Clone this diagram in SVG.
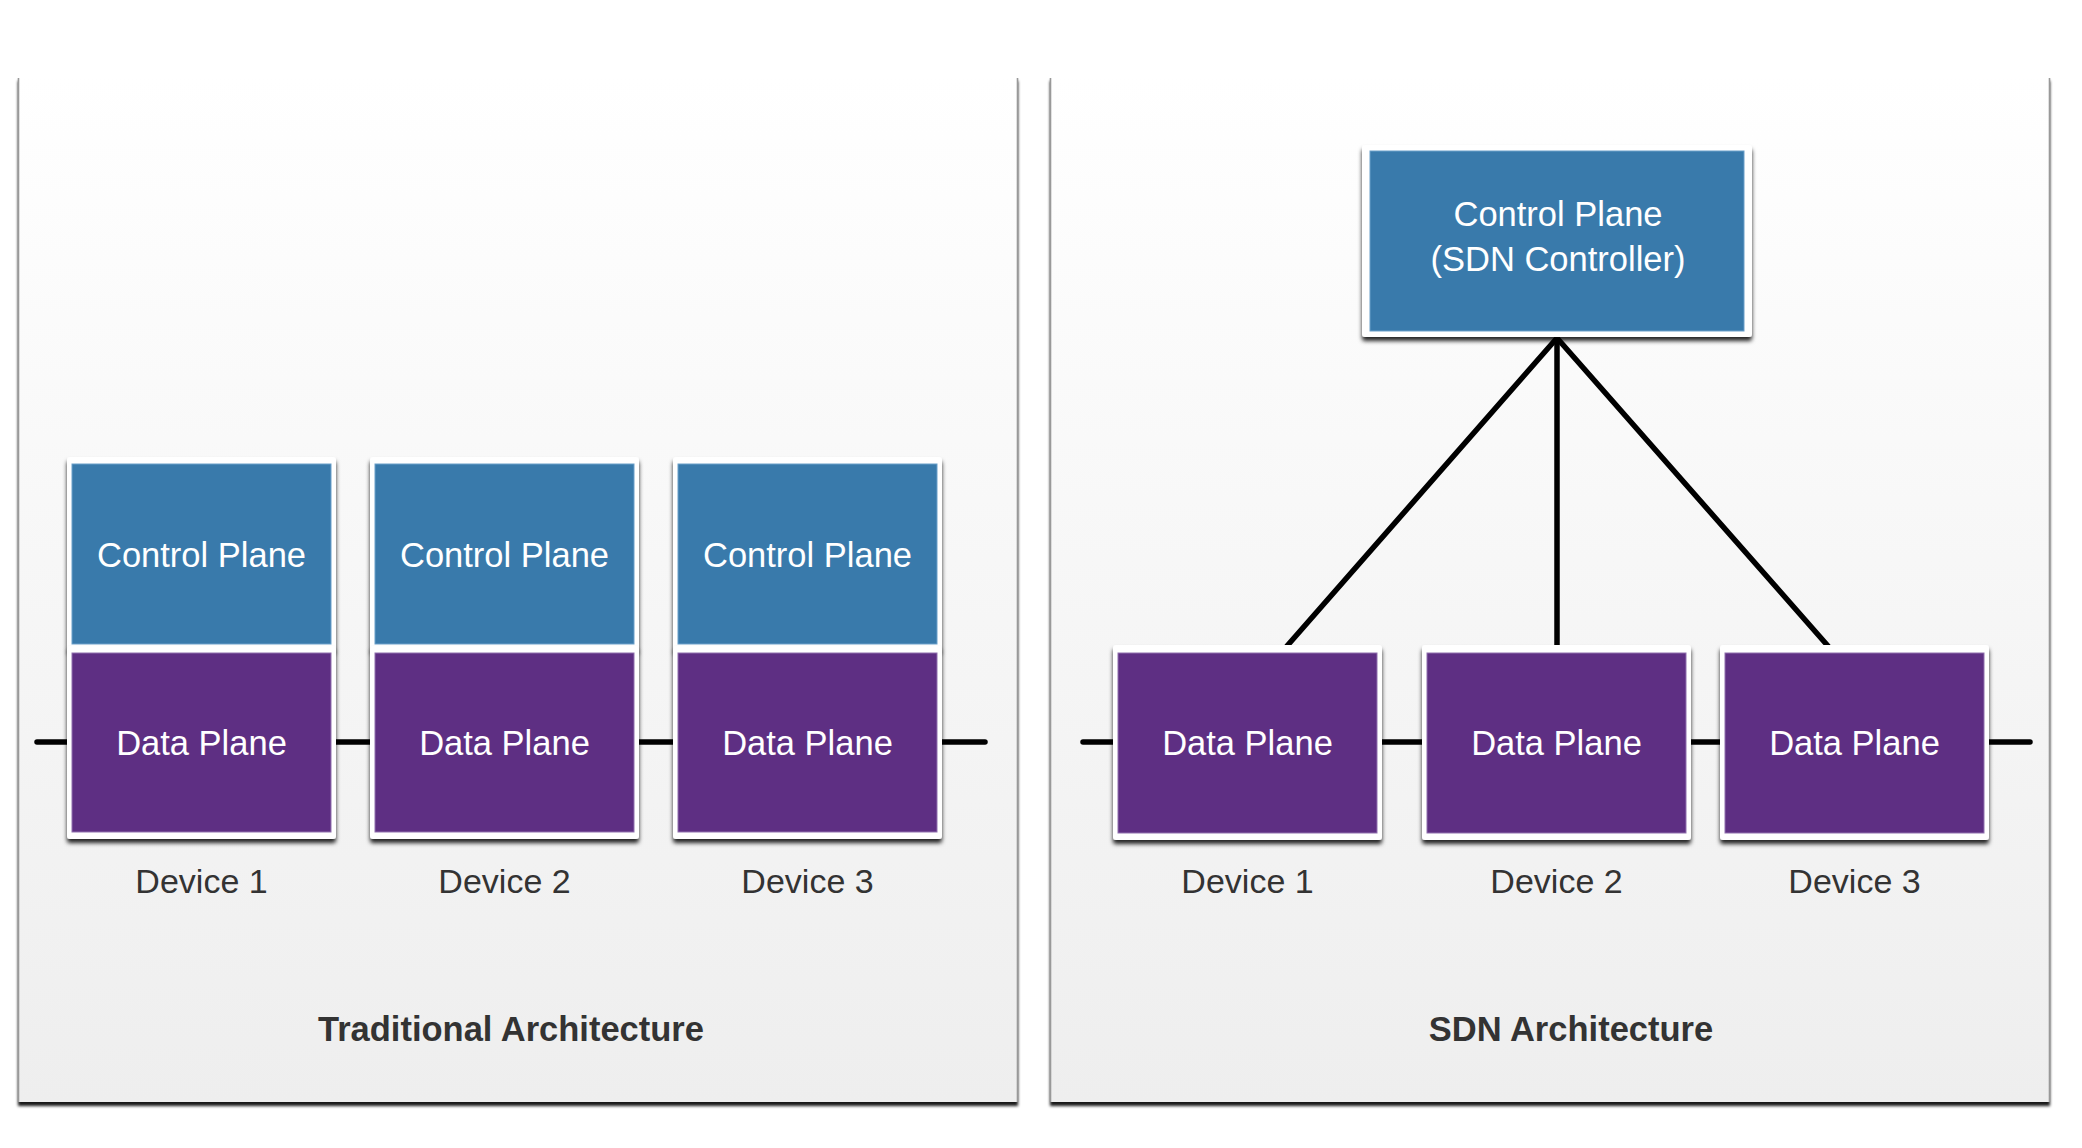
<svg xmlns="http://www.w3.org/2000/svg" width="2082" height="1148" viewBox="0 0 2082 1148">
  <defs>
    <linearGradient id="panelGrad" x1="0" y1="0" x2="0" y2="1">
      <stop offset="0" stop-color="#ffffff"/>
      <stop offset="1" stop-color="#eeeeee"/>
    </linearGradient>
    <filter id="panelShadow" x="-5%" y="-5%" width="110%" height="110%">
      <feDropShadow dx="0" dy="4" stdDeviation="1.6" flood-color="#000" flood-opacity="0.9"/>
    </filter>
    <filter id="cardShadow" x="-10%" y="-10%" width="120%" height="125%">
      <feDropShadow dx="0" dy="4" stdDeviation="2" flood-color="#000" flood-opacity="0.85"/>
    </filter>
  </defs>
  <style>
    .panel { fill: url(#panelGrad); }
    .edge { stroke: #999999; stroke-width: 1.6; fill: none; }
    .card { fill: #ffffff; filter: url(#cardShadow); }
    .ctrl { fill: #397aab; stroke: #6a9fc9; stroke-width: 1; }
    .data { fill: #5e2f83; stroke: #9070ad; stroke-width: 1; }
    .inner { font-family: "Liberation Sans", Arial, Helvetica, sans-serif; font-size: 34.5px; fill: #ffffff; text-anchor: middle; }
    .label { font-family: "Liberation Sans", Arial, Helvetica, sans-serif; font-size: 34px; fill: #333333; text-anchor: middle; }
    .title { font-family: "Liberation Sans", Arial, Helvetica, sans-serif; font-size: 34.5px; font-weight: bold; fill: #333333; text-anchor: middle; }
    .wire { stroke: #000000; stroke-width: 5.5; stroke-linecap: round; fill: none; }
  </style>

  <rect x="0" y="0" width="2082" height="1148" fill="#ffffff"/>

  <g id="panel-traditional">
    <rect class="panel" x="18" y="77" width="1000" height="1025" filter="url(#panelShadow)"/>
    <path class="edge" d="M18.5 78 V1102 M1017.5 78 V1102"/>
    <text class="title" x="511" y="1041">Traditional Architecture</text>
  </g>
  <g id="panel-sdn">
    <rect class="panel" x="1050" y="77" width="1000" height="1025" filter="url(#panelShadow)"/>
    <path class="edge" d="M1050.5 78 V1102 M2049.5 78 V1102"/>
    <text class="title" x="1571" y="1041">SDN Architecture</text>
  </g>

  <g id="connectors">
    <line class="wire" x1="37" y1="742" x2="985" y2="742"/>
    <line class="wire" x1="1083" y1="742" x2="2030" y2="742"/>
    <line class="wire" x1="1557" y1="338" x2="1287" y2="646" stroke-linecap="butt"/>
    <line class="wire" x1="1557" y1="338" x2="1557" y2="646" stroke-linecap="butt"/>
    <line class="wire" x1="1557" y1="338" x2="1828" y2="646" stroke-linecap="butt"/>
  </g>

  <g id="trad-device-1">
    <rect class="card" x="67" y="457" width="269" height="193" rx="3"/>
    <rect class="ctrl" x="72" y="464" width="259" height="180"/>
    <text class="inner" x="201.5" y="567">Control Plane</text>
    <rect class="card" x="67" y="646" width="269" height="193" rx="3"/>
    <rect class="data" x="72" y="653" width="259" height="179"/>
    <text class="inner" x="201.5" y="755">Data Plane</text>
    <text class="label" x="201.5" y="893">Device 1</text>
  </g>
  <g id="trad-device-2">
    <rect class="card" x="370" y="457" width="269" height="193" rx="3"/>
    <rect class="ctrl" x="375" y="464" width="259" height="180"/>
    <text class="inner" x="504.5" y="567">Control Plane</text>
    <rect class="card" x="370" y="646" width="269" height="193" rx="3"/>
    <rect class="data" x="375" y="653" width="259" height="179"/>
    <text class="inner" x="504.5" y="755">Data Plane</text>
    <text class="label" x="504.5" y="893">Device 2</text>
  </g>
  <g id="trad-device-3">
    <rect class="card" x="673" y="457" width="269" height="193" rx="3"/>
    <rect class="ctrl" x="678" y="464" width="259" height="180"/>
    <text class="inner" x="807.5" y="567">Control Plane</text>
    <rect class="card" x="673" y="646" width="269" height="193" rx="3"/>
    <rect class="data" x="678" y="653" width="259" height="179"/>
    <text class="inner" x="807.5" y="755">Data Plane</text>
    <text class="label" x="807.5" y="893">Device 3</text>
  </g>

  <g id="sdn-controller">
    <rect class="card" x="1362" y="145" width="390" height="192" rx="3"/>
    <rect class="ctrl" x="1370" y="151" width="374" height="180"/>
    <text class="inner" x="1558" y="226">Control Plane</text>
    <text class="inner" x="1558" y="271">(SDN Controller)</text>
  </g>
  <g id="sdn-device-1">
    <rect class="card" x="1113" y="645" width="269" height="195" rx="3"/>
    <rect class="data" x="1118" y="653" width="259" height="180"/>
    <text class="inner" x="1247.5" y="755">Data Plane</text>
    <text class="label" x="1247.5" y="893">Device 1</text>
  </g>
  <g id="sdn-device-2">
    <rect class="card" x="1422" y="645" width="269" height="195" rx="3"/>
    <rect class="data" x="1427" y="653" width="259" height="180"/>
    <text class="inner" x="1556.5" y="755">Data Plane</text>
    <text class="label" x="1556.5" y="893">Device 2</text>
  </g>
  <g id="sdn-device-3">
    <rect class="card" x="1720" y="645" width="269" height="195" rx="3"/>
    <rect class="data" x="1725" y="653" width="259" height="180"/>
    <text class="inner" x="1854.5" y="755">Data Plane</text>
    <text class="label" x="1854.5" y="893">Device 3</text>
  </g>
</svg>
